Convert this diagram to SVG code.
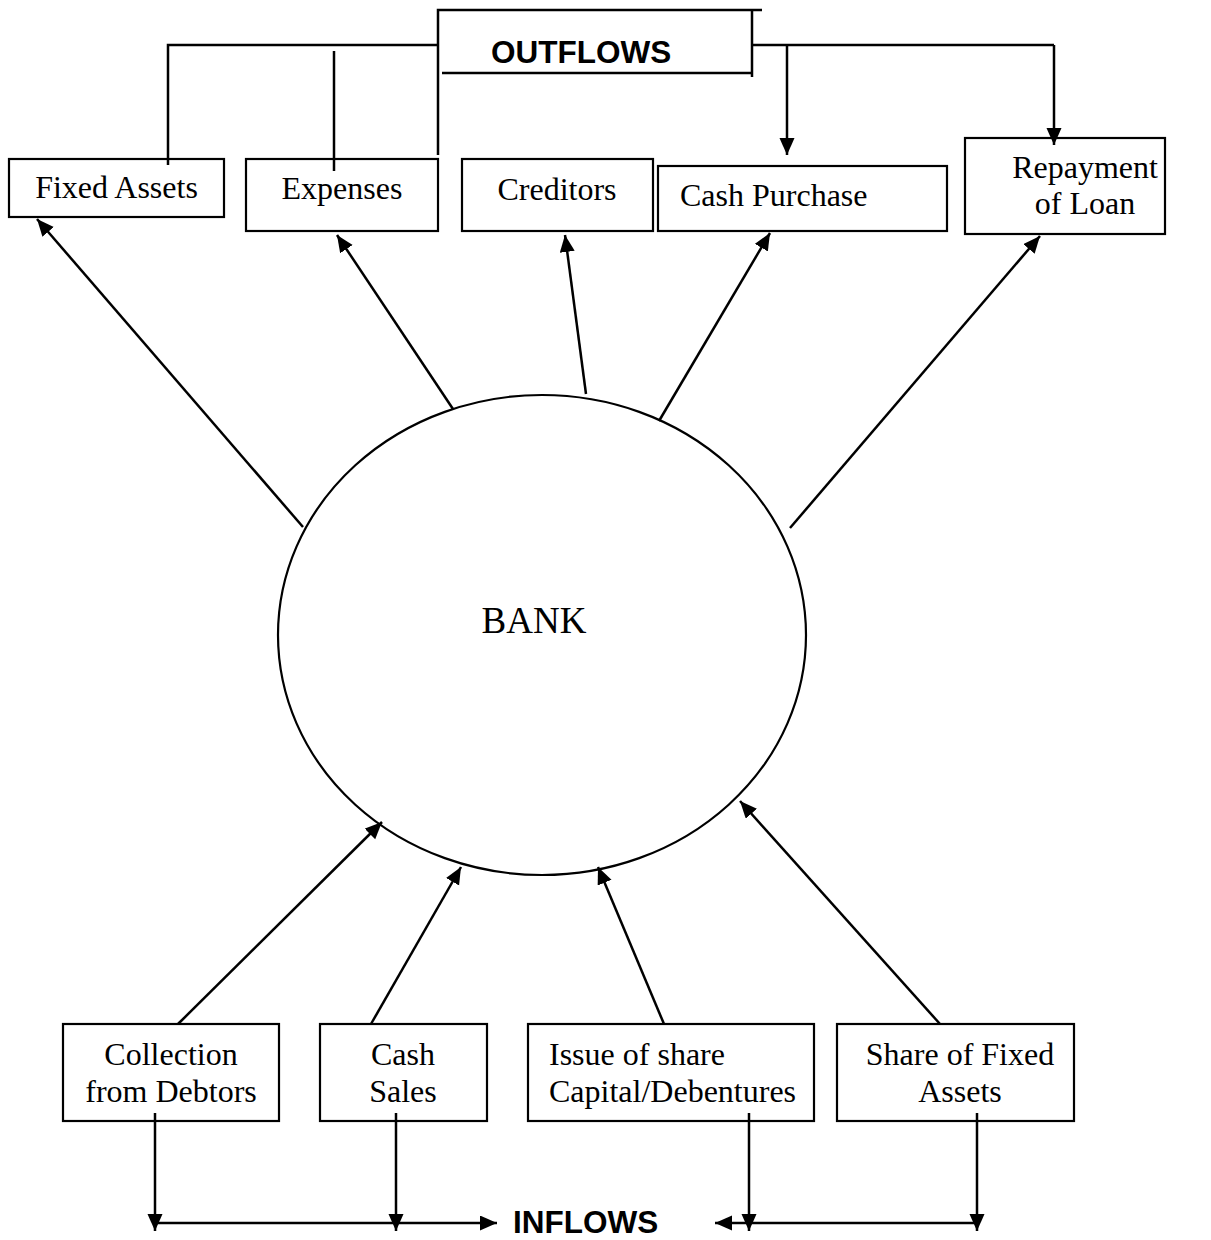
<svg xmlns="http://www.w3.org/2000/svg" width="1211" height="1240" viewBox="0 0 1211 1240">
<defs>
<style>
.box{fill:#fff;stroke:#000;stroke-width:2.2}
.ln{fill:none;stroke:#000;stroke-width:2.5}
.lbl{font-family:"Liberation Serif","Times New Roman",serif;font-size:32px;fill:#000}
.hd{font-family:"Liberation Sans",Arial,sans-serif;font-size:31.5px;font-weight:bold;fill:#000}
</style>
<marker id="ah" markerUnits="userSpaceOnUse" markerWidth="18" markerHeight="16" refX="17" refY="7.5" orient="auto">
<path d="M0,0 L17,7.5 L0,15 z" fill="#000"/>
</marker>
</defs>
<rect width="1211" height="1240" fill="#fff"/>

<g id="outflows">
<polyline class="ln" points="438,155 438,10 762,10"/>
<polyline class="ln" points="442,73 752,73 752,77 752,10"/>
<text class="hd" x="491" y="63">OUTFLOWS</text>
</g>

<g id="bank">
<ellipse class="box" cx="542" cy="635" rx="264" ry="240"/>
<text class="lbl" x="534" y="633" style="font-size:37px" text-anchor="middle">BANK</text>
</g>

<g id="fixed-assets">
<rect class="box" x="9" y="159" width="215" height="58"/>
<text class="lbl" x="116.5" y="198" text-anchor="middle">Fixed Assets</text>
</g>
<g id="expenses">
<rect class="box" x="246" y="159" width="192" height="72"/>
<text class="lbl" x="342" y="199" text-anchor="middle">Expenses</text>
</g>
<g id="creditors">
<rect class="box" x="462" y="159" width="191" height="72"/>
<text class="lbl" x="557" y="200" text-anchor="middle">Creditors</text>
</g>
<g id="cash-purchase">
<rect class="box" x="658" y="166" width="289" height="65"/>
<text class="lbl" x="680" y="206">Cash Purchase</text>
</g>
<g id="repayment-of-loan">
<rect class="box" x="965" y="138" width="200" height="96"/>
<text class="lbl" x="1085" y="178" text-anchor="middle">Repayment</text>
<text class="lbl" x="1085" y="214" text-anchor="middle">of Loan</text>
</g>

<g id="collection-from-debtors">
<rect class="box" x="63" y="1024" width="216" height="97"/>
<text class="lbl" x="171" y="1065" text-anchor="middle">Collection</text>
<text class="lbl" x="171" y="1102" text-anchor="middle">from Debtors</text>
</g>
<g id="cash-sales">
<rect class="box" x="320" y="1024" width="167" height="97"/>
<text class="lbl" x="403" y="1065" text-anchor="middle">Cash</text>
<text class="lbl" x="403" y="1102" text-anchor="middle">Sales</text>
</g>
<g id="issue-of-share-capital">
<rect class="box" x="528" y="1024" width="286" height="97"/>
<text class="lbl" x="549" y="1065">Issue of share</text>
<text class="lbl" x="549" y="1102">Capital/Debentures</text>
</g>
<g id="share-of-fixed-assets">
<rect class="box" x="837" y="1024" width="237" height="97"/>
<text class="lbl" x="960" y="1065" text-anchor="middle">Share of Fixed</text>
<text class="lbl" x="960" y="1102" text-anchor="middle">Assets</text>
</g>

<g id="inflows">
<text class="hd" x="513" y="1233">INFLOWS</text>
</g>

<g id="connectors">
<polyline class="ln" points="168,165 168,45 438,45"/>
<line class="ln" x1="334" y1="51" x2="334" y2="171"/>
<line class="ln" x1="752" y1="45" x2="1054" y2="45"/>
<line class="ln" x1="787" y1="45" x2="787" y2="155" marker-end="url(#ah)"/>
<line class="ln" x1="1054" y1="45" x2="1054" y2="145" marker-end="url(#ah)"/>
<line class="ln" x1="303" y1="527" x2="37" y2="219" marker-end="url(#ah)"/>
<line class="ln" x1="453" y1="409" x2="337" y2="235" marker-end="url(#ah)"/>
<line class="ln" x1="586" y1="394" x2="565" y2="235" marker-end="url(#ah)"/>
<line class="ln" x1="659" y1="421" x2="770" y2="233" marker-end="url(#ah)"/>
<line class="ln" x1="790" y1="528" x2="1040" y2="236" marker-end="url(#ah)"/>
<line class="ln" x1="178" y1="1024" x2="382" y2="822" marker-end="url(#ah)"/>
<line class="ln" x1="371" y1="1024" x2="461" y2="867" marker-end="url(#ah)"/>
<line class="ln" x1="664" y1="1024" x2="598" y2="867" marker-end="url(#ah)"/>
<line class="ln" x1="940" y1="1024" x2="740" y2="801" marker-end="url(#ah)"/>
<line class="ln" x1="155" y1="1113" x2="155" y2="1231" marker-end="url(#ah)"/>
<line class="ln" x1="396" y1="1113" x2="396" y2="1231" marker-end="url(#ah)"/>
<line class="ln" x1="155" y1="1223" x2="497" y2="1223" marker-end="url(#ah)"/>
<line class="ln" x1="749" y1="1113" x2="749" y2="1231" marker-end="url(#ah)"/>
<line class="ln" x1="977" y1="1113" x2="977" y2="1231" marker-end="url(#ah)"/>
<line class="ln" x1="977" y1="1223" x2="715" y2="1223" marker-end="url(#ah)"/>
</g>
</svg>
